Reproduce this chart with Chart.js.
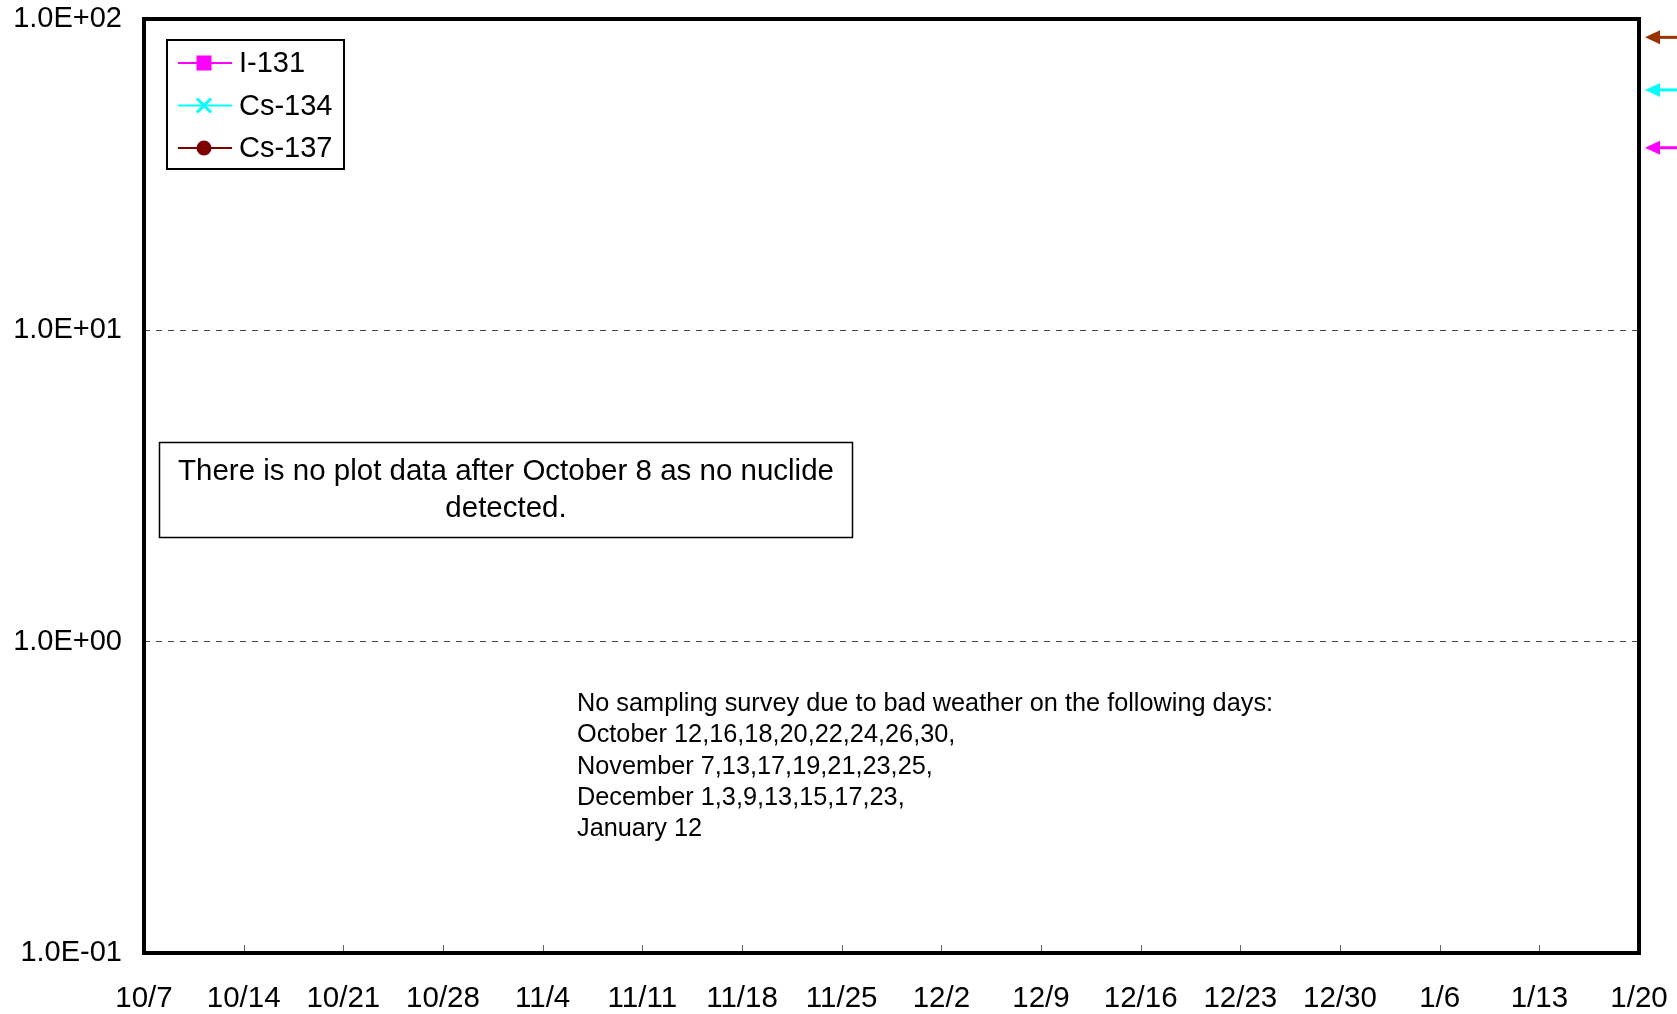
<!DOCTYPE html>
<html>
<head>
<meta charset="utf-8">
<script src="https://cdn.jsdelivr.net/npm/chart.js@4/dist/chart.umd.min.js"></script>
<style>
  html, body { margin: 0; padding: 0; background: #fff; }
  #wrap { width: 1677px; height: 1014px; position: relative; }
</style>
</head>
<body>
<div id="wrap"><canvas id="chart"></canvas></div>
<script>
const FONT = '"Liberation Sans", Arial, sans-serif';

// weekly date ticks on the x axis
const xTickLabels = ['10/7', '10/14', '10/21', '10/28', '11/4', '11/11', '11/18', '11/25',
    '12/2', '12/9', '12/16', '12/23', '12/30', '1/6', '1/13', '1/20'];
// log axis decades
const yTickValues = [0.1, 1, 10, 100];

// nuclides (nothing detected after October 8 -> no plotted points)
const seriesNames = ['I-131', 'Cs-134', 'Cs-137'];
const seriesColors = ['#FF00FF', '#00FFFF', '#800000'];
const seriesMarkers = ['rect', 'crossRot', 'circle'];
const i131 = [];
const cs134 = [];
const cs137 = [];

// off-scale arrows on the right edge (level per nuclide)
const arrowValues = [38.6, 59.2, 87.3];
const arrowColors = ['#FF00FF', '#00FFFF', '#993300'];

const noteMain = ['There is no plot data after October 8 as no nuclide', 'detected.'];
const noteWeather = [
    'No sampling survey due to bad weather on the following days:',
    'October 12,16,18,20,22,24,26,30,',
    'November 7,13,17,19,21,23,25,',
    'December 1,3,9,13,15,17,23,',
    'January 12'
];

// exponent format like 1.0E+02
const sci = (v) => {
    const [m, e] = Number(v).toExponential(1).split('e');
    return m + 'E' + e[0] + e.slice(1).padStart(2, '0');
};

const drawMarker = (ctx, kind, cx, cy, color) => {
    ctx.fillStyle = color;
    ctx.strokeStyle = color;
    if (kind === 'rect') {
        ctx.fillRect(cx - 7.5, cy - 7.5, 15, 15);
    } else if (kind === 'circle') {
        ctx.beginPath();
        ctx.arc(cx, cy, 7.5, 0, Math.PI * 2);
        ctx.fill();
    } else {
        ctx.lineWidth = 3;
        ctx.beginPath();
        ctx.moveTo(cx - 7, cy - 7); ctx.lineTo(cx + 7, cy + 7);
        ctx.moveTo(cx + 7, cy - 7); ctx.lineTo(cx - 7, cy + 7);
        ctx.stroke();
    }
};

const overlay = {
    id: 'overlay',
    afterDraw(chart) {
        const { ctx, chartArea: a, scales: { x, y } } = chart;
        ctx.save();

        // small ticks pointing into the plot
        ctx.strokeStyle = '#666';
        ctx.lineWidth = 1;
        x.ticks.forEach((t, i) => {
            const px = Math.round(x.getPixelForTick(i)) + 0.5;
            ctx.beginPath();
            ctx.moveTo(px, a.bottom);
            ctx.lineTo(px, a.bottom - 8);
            ctx.stroke();
        });

        // plot frame
        ctx.strokeStyle = '#000';
        ctx.lineWidth = 4;
        ctx.strokeRect(a.left, a.top, a.right - a.left, a.bottom - a.top);

        // arrows at right edge
        arrowValues.forEach((v, i) => {
            const py = y.getPixelForValue(v);
            const tip = a.right + 6;
            ctx.fillStyle = arrowColors[i];
            ctx.strokeStyle = arrowColors[i];
            ctx.lineWidth = 3;
            ctx.beginPath();
            ctx.moveTo(tip + 10, py);
            ctx.lineTo(chart.width, py);
            ctx.stroke();
            ctx.beginPath();
            ctx.moveTo(tip, py);
            ctx.lineTo(tip + 15, py - 7);
            ctx.lineTo(tip + 15, py + 7);
            ctx.closePath();
            ctx.fill();
        });

        // legend box
        ctx.fillStyle = '#fff';
        ctx.fillRect(167, 40, 177, 129);
        ctx.strokeStyle = '#000';
        ctx.lineWidth = 2;
        ctx.strokeRect(167, 40, 177, 129);
        ctx.font = '29px ' + FONT;
        ctx.textBaseline = 'middle';
        ctx.textAlign = 'left';
        chart.data.datasets.forEach((ds, i) => {
            const ly = 63 + i * 42.5;
            ctx.strokeStyle = ds.borderColor;
            ctx.lineWidth = 2;
            ctx.beginPath();
            ctx.moveTo(178, ly);
            ctx.lineTo(232, ly);
            ctx.stroke();
            drawMarker(ctx, seriesMarkers[i], 204, ly, ds.borderColor);
            ctx.fillStyle = '#000';
            ctx.fillText(ds.label, 239, ly + 1);
        });

        // note box
        ctx.fillStyle = '#fff';
        ctx.fillRect(159.5, 442.5, 693, 95);
        ctx.strokeStyle = '#000';
        ctx.lineWidth = 1.5;
        ctx.strokeRect(159.5, 442.5, 693, 95);
        ctx.fillStyle = '#000';
        ctx.textAlign = 'center';
        ctx.font = '29.5px ' + FONT;
        noteMain.forEach((s, i) => ctx.fillText(s, 506, 472 + i * 37));

        // weather note
        ctx.textAlign = 'left';
        ctx.font = '25.3px ' + FONT;
        noteWeather.forEach((s, i) => ctx.fillText(s, 577, 704 + i * 31.3));

        ctx.restore();
    }
};

const makeSet = (i, data) => ({
    label: seriesNames[i],
    data: data,
    borderColor: seriesColors[i],
    backgroundColor: seriesColors[i],
    pointStyle: seriesMarkers[i],
    borderWidth: 2,
    pointRadius: 7
});

new Chart(document.getElementById('chart'), {
    type: 'line',
    data: {
        labels: xTickLabels,
        datasets: [makeSet(0, i131), makeSet(1, cs134), makeSet(2, cs137)]
    },
    options: {
        responsive: true,
        maintainAspectRatio: false,
        animation: false,
        layout: { padding: { top: 19, right: 38, left: 0, bottom: 0 } },
        scales: {
            x: {
                type: 'category',
                offset: false,
                grid: { display: false, drawTicks: false },
                border: { display: false },
                ticks: {
                    autoSkip: false,
                    maxRotation: 0,
                    padding: 28,
                    color: '#000',
                    font: { family: FONT, size: 29.5 }
                },
                afterFit: (s) => { s.height = 61; s.paddingLeft = 0; s.paddingRight = 0; }
            },
            y: {
                type: 'logarithmic',
                min: 0.1,
                max: 100,
                afterBuildTicks: (s) => { s.ticks = yTickValues.map(v => ({ value: v })); },
                grid: {
                    drawTicks: false,
                    lineWidth: 1,
                    color: (c) => (c.tick && (c.tick.value === 1 || c.tick.value === 10)) ? '#444' : 'rgba(0,0,0,0)'
                },
                border: { display: false, dash: [6, 6] },
                ticks: {
                    padding: 22,
                    color: '#000',
                    font: { family: FONT, size: 29 },
                    callback: (v) => sci(v)
                },
                afterFit: (s) => { s.width = 144; s.paddingTop = 0; s.paddingBottom = 0; }
            }
        },
        plugins: {
            legend: { display: false },
            tooltip: { enabled: false }
        }
    },
    plugins: [overlay]
});
</script>
</body>
</html>
